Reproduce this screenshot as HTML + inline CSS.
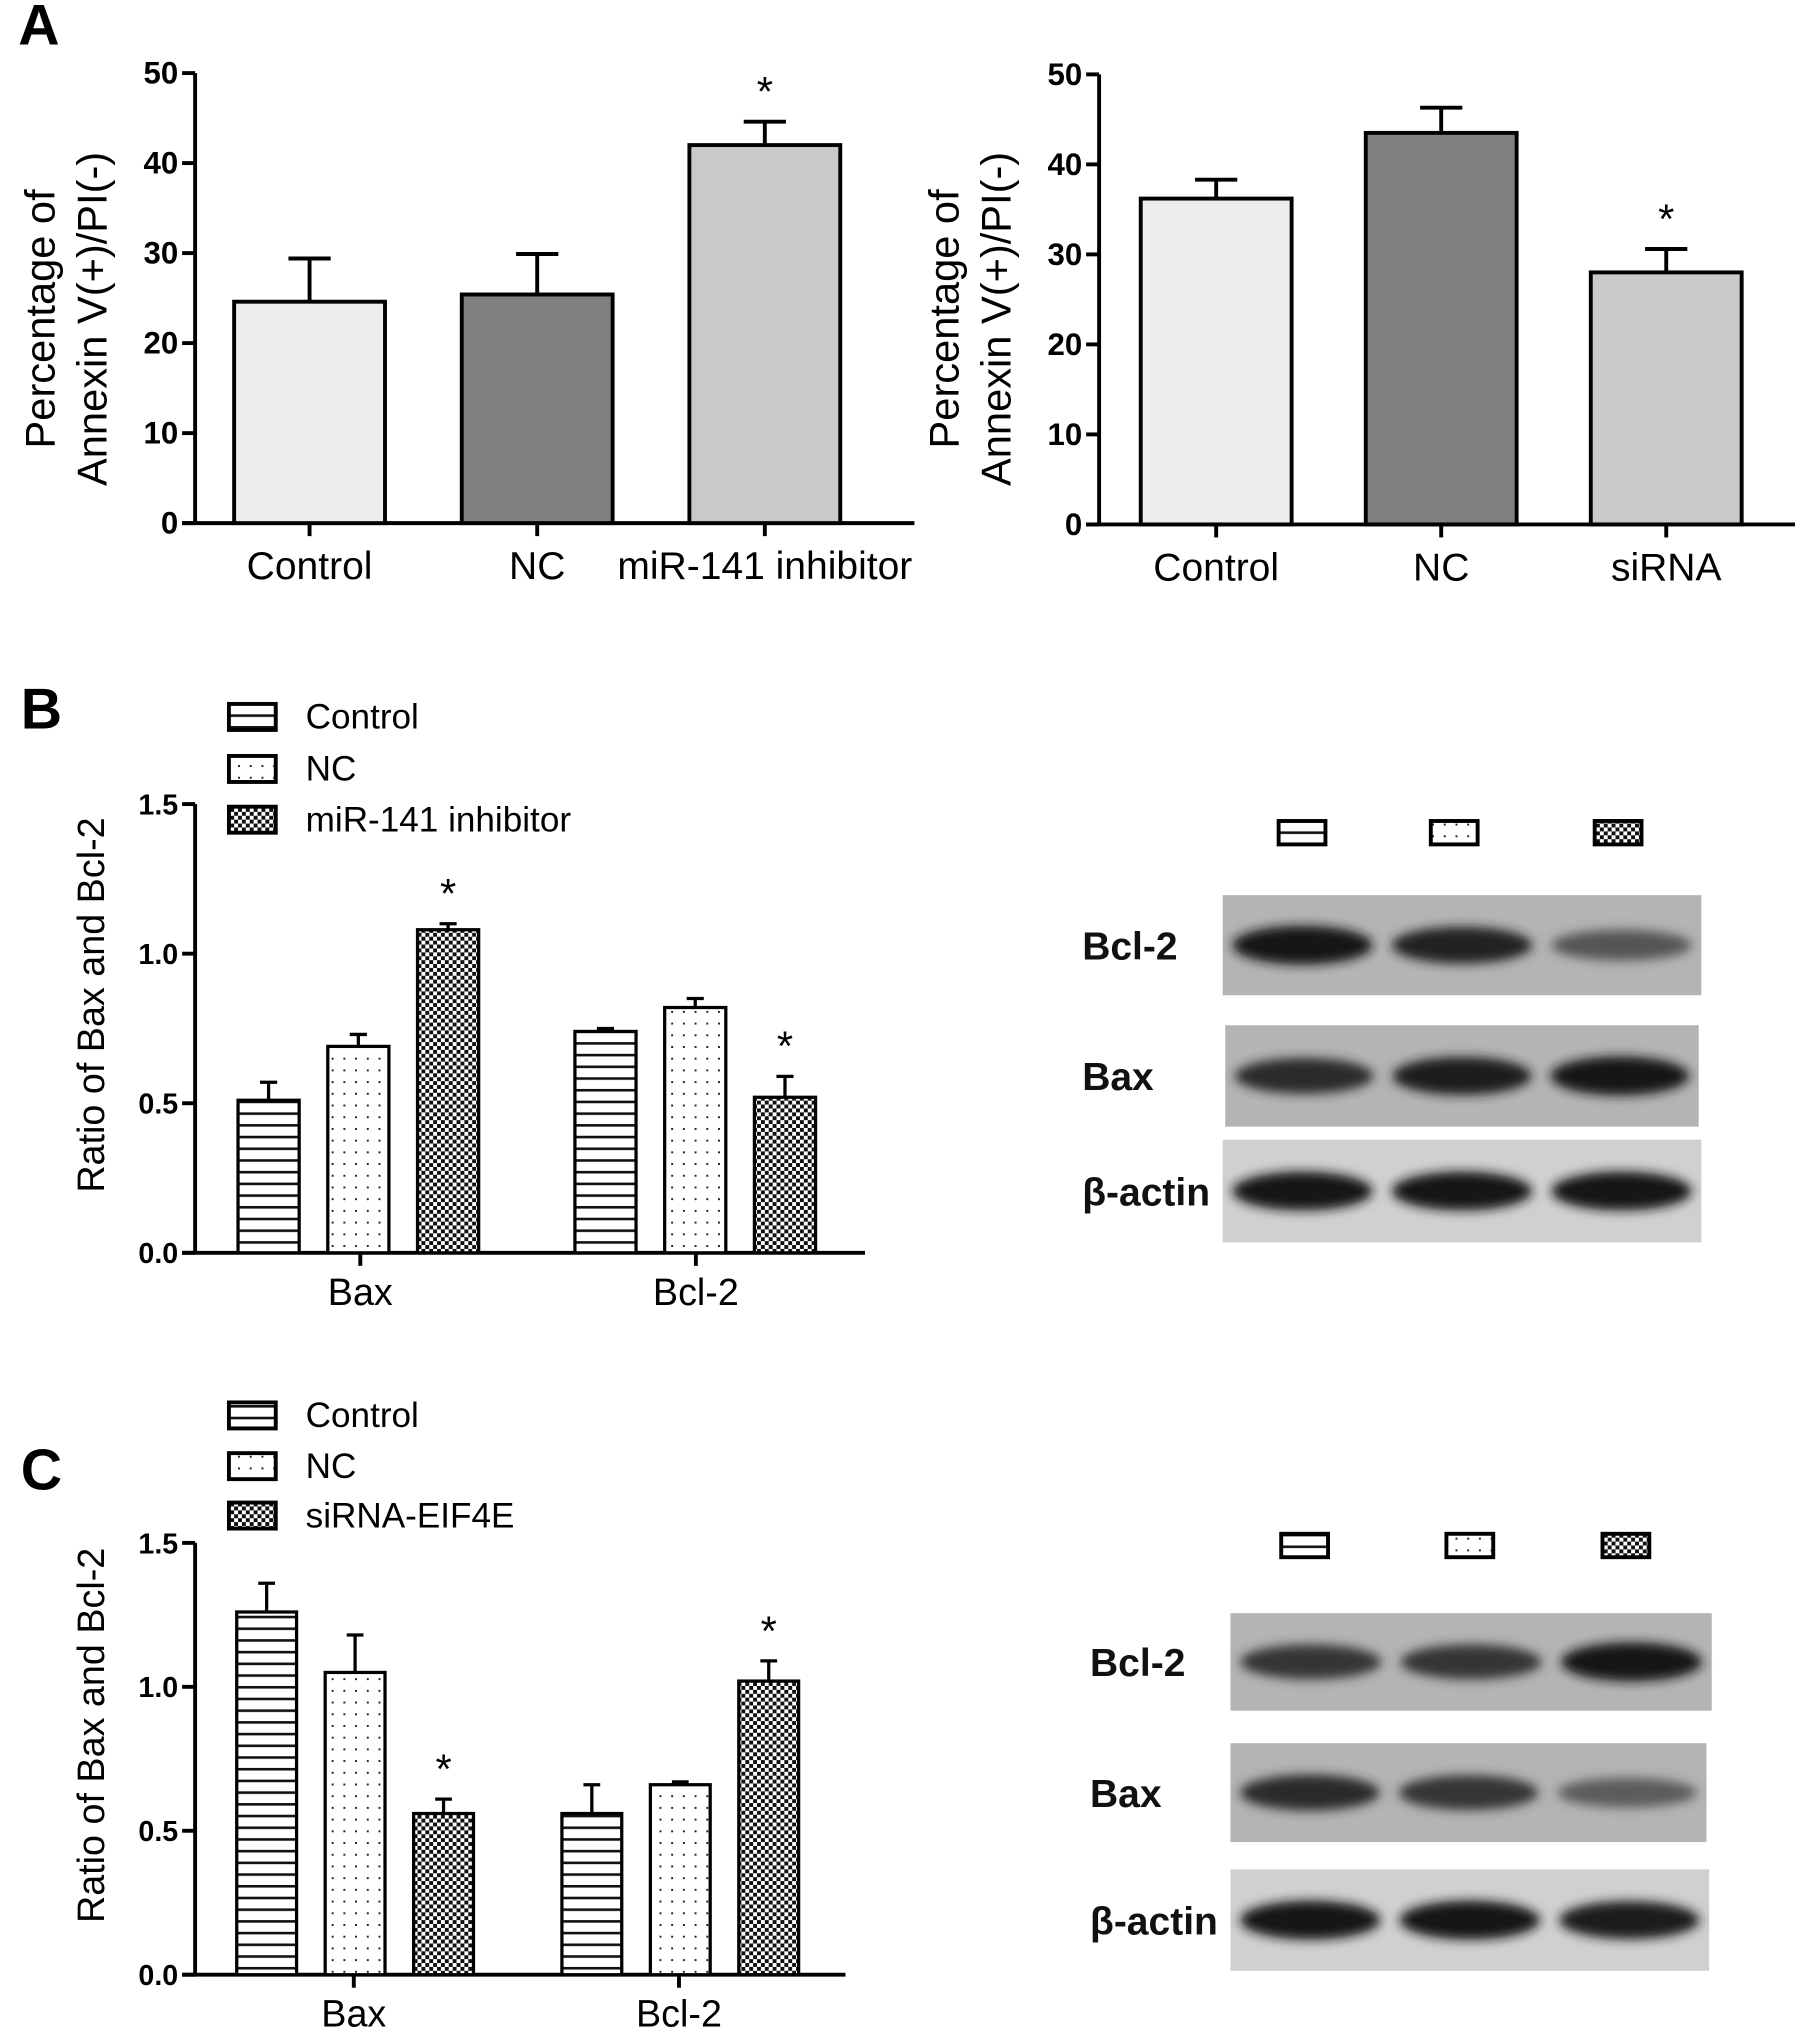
<!DOCTYPE html>
<html><head><meta charset="utf-8"><style>
html,body{margin:0;padding:0;background:#fff;}
svg{display:block;font-family:"Liberation Sans",sans-serif;}
</style></head><body>
<svg id="fig" width="1795" height="2040" viewBox="0 0 1380 1568" xmlns="http://www.w3.org/2000/svg">
<defs>
<pattern id="pH" width="8" height="9" patternUnits="userSpaceOnUse"><rect width="8" height="9" fill="#fff"/><rect y="0" width="8" height="2" fill="#111"/></pattern>
<pattern id="pD" width="9" height="9" patternUnits="userSpaceOnUse"><rect width="9" height="9" fill="#fff"/><rect x="3" y="3" width="1.5" height="1.5" fill="#222"/></pattern>
<pattern id="pC" width="6" height="6" patternUnits="userSpaceOnUse"><rect width="6" height="6" fill="#fff"/><rect width="3" height="3" fill="#111"/><rect x="3" y="3" width="3" height="3" fill="#111"/></pattern>
<filter id="blur" x="-20%" y="-50%" width="140%" height="200%"><feGaussianBlur stdDeviation="4"/></filter>
</defs>
<g font-weight="bold" font-size="44">
<text x="14" y="34">A</text>
<text x="16" y="560">B</text>
<text x="16" y="1145">C</text>
</g>
<g id="charts"></g>
<g id="blots"></g>
</svg>
<script>
// Panel A left
const aLeftCats = ["Control", "NC", "miR-141 inhibitor"];
const aLeftVals = [24.6, 25.4, 42.0];
const aLeftErr = [4.8, 4.5, 2.6];
const aLeftSig = [false, false, true];
// Panel A right
const aRightCats = ["Control", "NC", "siRNA"];
const aRightVals = [36.2, 43.5, 28.0];
const aRightErr = [2.1, 2.8, 2.6];
const aRightSig = [false, false, true];
const aTicks = [0, 10, 20, 30, 40, 50];
// Panel B
const bGroups = ["Bax", "Bcl-2"];
const bSeries = ["Control", "NC", "miR-141 inhibitor"];
const bVals = [[0.51, 0.74], [0.69, 0.82], [1.08, 0.52]];
const bErr = [[0.06, 0.01], [0.04, 0.03], [0.02, 0.07]];
const bSig = [[false, false], [false, false], [true, true]];
// Panel C
const cSeries = ["Control", "NC", "siRNA-EIF4E"];
const cVals = [[1.26, 0.56], [1.05, 0.66], [0.56, 1.02]];
const cErr = [[0.10, 0.10], [0.13, 0.01], [0.05, 0.07]];
const cSig = [[false, false], [false, false], [true, true]];
const bcTicks = [0.0, 0.5, 1.0, 1.5];
const bcTickLabels = ["0.0", "0.5", "1.0", "1.5"];

const NS = "http://www.w3.org/2000/svg";
const charts = document.getElementById('charts');
function el(tag, attrs, parent, text) {
  const e = document.createElementNS(NS, tag);
  for (const k in attrs) e.setAttribute(k, attrs[k]);
  if (text !== undefined) e.textContent = text;
  (parent || charts).appendChild(e);
  return e;
}
function yScale(y0, yTop, max) { return v => y0 - (v / max) * (y0 - yTop); }

function axes(g, ax, y0, yTop, xEnd, ticks, labels, max, fs) {
  const y = yScale(y0, yTop, max);
  const l = el('line', {x1: ax, y1: yTop, x2: ax, y2: y0, stroke: '#000', 'stroke-width': 3}, g);
  
  
  const xl = el('line', {x1: ax - 10, y1: y0, x2: xEnd, y2: y0, stroke: '#000', 'stroke-width': 3}, g);
  
  
  ticks.forEach((t, i) => {
    el('line', {x1: ax - 10, y1: y(t), x2: ax, y2: y(t), stroke: '#000', 'stroke-width': 3}, g);
    const tx = el('text', {x: ax - 13, y: y(t) + 8, 'text-anchor': 'end', 'font-size': fs, 'font-weight': 'bold'}, g, labels[i]);
    
    
  });
  return y;
}
function bar(g, x, w, v, e, y, fill, sig, sw) {
  const top = y(v), et = y(v + e);
  el('line', {x1: x + w / 2, y1: top, x2: x + w / 2, y2: et, stroke: '#000', 'stroke-width': sw}, g);
  el('line', {x1: x + w / 2 - w * 0.14, y1: et, x2: x + w / 2 + w * 0.14, y2: et, stroke: '#000', 'stroke-width': sw}, g);
  const r = el('rect', {x: x, y: top, width: w, height: y(0) - top, fill: fill, stroke: '#000', 'stroke-width': sw}, g);
  
  
  if (sig) {
    const s = el('text', {x: x + w / 2, y: et - 12, 'text-anchor': 'middle', 'font-size': 32}, g, '*');
    
    
  }
}

function panelA(name, ax, y0, yTop, xEnd, x0, step, cats, vals, errs, sigs, tx) {
  const g = el('g', {});
  
  
  const y = axes(g, ax, y0, yTop, xEnd, aTicks, aTicks.map(String), 50, 24);
  const fills = ['#ededed', '#808080', '#c9c9c9'];
  cats.forEach((c, i) => {
    const x = x0 + i * step;
    bar(g, x, 116, vals[i], errs[i], y, fills[i], sigs[i], 3);
    el('line', {x1: x + 58, y1: y0, x2: x + 58, y2: y0 + 10, stroke: '#000', 'stroke-width': 3}, g);
    const t = el('text', {x: x + 58, y: y0 + 43, 'text-anchor': 'middle', 'font-size': 30}, g, c);
    
    
  });
  const tt = el('text', {transform: `translate(${tx},245) rotate(-90)`, 'text-anchor': 'middle', 'font-size': 32}, g);
  
  
  el('tspan', {x: 0, dy: 0}, tt, 'Percentage of');
  el('tspan', {x: 0, dy: 40}, tt, 'Annexin V(+)/PI(-)');
}
panelA('chart-a-left', 150, 402, 56, 703, 180, 175, aLeftCats, aLeftVals, aLeftErr, aLeftSig, 42);
panelA('chart-a-right', 845, 403, 57, 1398, 877, 173, aRightCats, aRightVals, aRightErr, aRightSig, 737);

const pats = ['url(#pH)', 'url(#pD)', 'url(#pC)'];
function legend(g, x, ys, names) {
  names.forEach((n, i) => {
    const le = el('g', {}, g);
    
    
    el('rect', {x: x, y: ys[i] - 10, width: 36, height: 20, fill: pats[i], stroke: '#000', 'stroke-width': 3}, le);
    el('text', {x: x + 59, y: ys[i] + 9, 'font-size': 27}, le, n);
  });
}
function panelBC(name, y0, yTop, starts, groupX, vals, errs, sigs, series, legYs, xEnd, w) {
  const g = el('g', {});
  
  
  const y = axes(g, 150, y0, yTop, xEnd, bcTicks, bcTickLabels, 1.5, 22);
  bGroups.forEach((gr, j) => {
    series.forEach((s, i) => {
      bar(g, starts[j] + i * (w + 22), w, vals[i][j], errs[i][j], y, pats[i], sigs[i][j], 2.5);
    });
    el('line', {x1: groupX[j], y1: y0, x2: groupX[j], y2: y0 + 10, stroke: '#000', 'stroke-width': 3}, g);
    const t = el('text', {x: groupX[j], y: y0 + 40, 'text-anchor': 'middle', 'font-size': 29}, g, gr);
    
    
  });
  const tt = el('text', {transform: `translate(80,${(y0 + yTop) / 2 - 18}) rotate(-90)`, 'text-anchor': 'middle', 'font-size': 29}, g, 'Ratio of Bax and Bcl-2');
  
  
  legend(g, 176, legYs, series);
}
panelBC('chart-b', 963, 618, [183, 442], [277, 535], bVals, bErr, bSig, bSeries, [551, 591, 630], 665, 47);
panelBC('chart-c', 1518, 1186, [182, 432], [272, 522], cVals, cErr, cSig, cSeries, [1088, 1127, 1165], 650, 46);

// Western blots
const blots = document.getElementById('blots');
const bandB = {"Bcl-2": [1.0, 0.9, 0.6], "Bax": [0.85, 0.95, 1.0], "β-actin": [1.0, 1.0, 1.0]};
const bandC = {"Bcl-2": [0.8, 0.8, 1.0], "Bax": [0.85, 0.8, 0.55], "β-actin": [1.0, 1.0, 0.95]};
function blotPanel(name, boxY, boxXs, rows, bands, labelX) {
  const g = el('g', {}, blots);
  
  
  boxXs.forEach((bx, i) => {
    const r = el('rect', {x: bx, y: boxY, width: 36, height: 18, fill: pats[i], stroke: '#000', 'stroke-width': 3}, g);
    
    
  });
  rows.forEach(rw => {
    const bg = rw.label === 'β-actin' ? '#d0d0d0' : '#b4b4b4';
    const r = el('rect', {x: rw.x, y: rw.y, width: rw.w, height: rw.h, fill: bg}, g);
    
    
    const lw = rw.w / 3;
    bands[rw.label].forEach((v, i) => {
      const shade = Math.round(20 + (1 - v) * 160);
      el('ellipse', {cx: rw.x + lw * (i + 0.5), cy: rw.y + rw.h * 0.5, rx: lw * 0.44, ry: 7 + 8 * v, fill: `rgb(${shade},${shade},${shade})`, filter: 'url(#blur)'}, g);
    });
    const t = el('text', {x: labelX, y: rw.y + rw.h / 2 + 11, 'font-size': 30, 'font-weight': 'bold', fill: '#111'}, g, rw.label);
    
    
  });
}
blotPanel('western-blot-b', 631, [983, 1100, 1226], [
  {label: 'Bcl-2', x: 940, y: 688, w: 368, h: 77},
  {label: 'Bax', x: 942, y: 788, w: 364, h: 78},
  {label: 'β-actin', x: 940, y: 876, w: 368, h: 79}], bandB, 832);
blotPanel('western-blot-c', 1179, [985, 1112, 1232], [
  {label: 'Bcl-2', x: 946, y: 1240, w: 370, h: 75},
  {label: 'Bax', x: 946, y: 1340, w: 366, h: 76},
  {label: 'β-actin', x: 946, y: 1437, w: 368, h: 78}], bandC, 838);
</script>
</body></html>
